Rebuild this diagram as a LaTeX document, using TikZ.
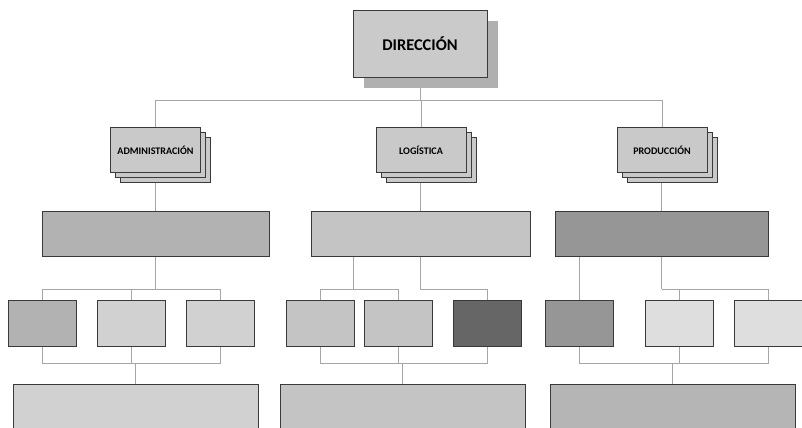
\documentclass[tikz,border=0pt]{standalone}
\usepackage{fontspec}
\setmainfont{Carlito}
\usetikzlibrary{positioning,shadows,backgrounds}

\definecolor{boxline}{HTML}{3A3A3A}
\definecolor{connline}{HTML}{A6A6A6}
\definecolor{shadowgray}{HTML}{B0B0B0}
\definecolor{dirfill}{HTML}{CACACA}
\definecolor{stackfill}{HTML}{C9C9C9}

\begin{document}
\begin{tikzpicture}[x=0.3mm, y=-0.3mm,
    box/.style={draw=boxline, line width=0.8pt, inner sep=0pt},
    small/.style={box, minimum width=20.4mm, minimum height=13.8mm},
    stack/.style={box, fill=stackfill, minimum width=27mm, minimum height=13.5mm,
        font=\fontsize{8.6}{10}\selectfont\bfseries,
        double copy shadow={shadow xshift=1.5mm, shadow yshift=-1.5mm,
            fill=stackfill, draw=boxline, line width=0.8pt}},
    conn/.style={draw=connline, line width=0.6pt}]
\useasboundingbox (0,0) rectangle (802,427);
\clip (0,0) rectangle (802,427);

% top
\node (dir) [box, fill=dirfill, minimum width=40.2mm, minimum height=20.1mm,
    font=\fontsize{14}{16}\selectfont\bfseries,
    drop shadow={shadow xshift=3.3mm, shadow yshift=-3.3mm, fill=shadowgray, opacity=1}]
    at (420,43.5) {DIRECCIÓN};

% departments
\node (adm) [stack] at (155.5,150) {ADMINISTRACIÓN};
\node (log) [stack] at (421,150) {LOGÍSTICA};
\node (prod) [stack] at (662,150) {PRODUCCIÓN};

% wide boxes
\node (admW) [box, fill=black!30, minimum width=68.1mm, minimum height=13.5mm] at (155.5,233.5) {};
\node (logW) [box, fill=black!23, minimum width=65.7mm, minimum height=13.5mm] at (420.5,233.5) {};
\node (prodW) [box, fill=black!41, minimum width=63.9mm, minimum height=13.5mm] at (661.5,233.5) {};

% small boxes
\node (a1) [small, fill=black!30] at (42,323) {};
\node (a2) [small, fill=black!18] at (131,323) {};
\node (a3) [small, fill=black!18] at (220,323) {};
\node (l1) [small, fill=black!23] at (320,323) {};
\node (l2) [small, fill=black!23] at (398,323) {};
\node (l3) [small, fill=black!60] at (487,323) {};
\node (p1) [small, fill=black!41] at (579,323) {};
\node (p2) [small, fill=black!13] at (679,323) {};
\node (p3) [small, fill=black!13] at (768,323) {};

% bottom boxes
\node (admB) [box, fill=black!18, minimum width=73.5mm, minimum height=18mm] at (135.5,414) {};
\node (logB) [box, fill=black!23, minimum width=73.5mm, minimum height=18mm] at (402.5,414) {};
\node (prodB) [box, fill=black!29, minimum width=73.5mm, minimum height=18mm] at (672.5,414) {};

\begin{scope}[on background layer]
\draw[conn] (dir.south) -- ++(0,23) coordinate (dirJ);
\draw[conn] (dirJ) -| (adm.north);
\draw[conn] (dirJ) -| (log.north);
\draw[conn] (dirJ) -| (prod.north);
\draw[conn] (adm.center) -- (admW.north);
\draw[conn] (logW.north |- log.center) -- (logW.north);
\draw[conn] (prodW.north |- prod.center) -- (prodW.north);

\draw[conn] (admW.south) -- ++(0,33) coordinate (admJ);
\draw[conn] (admJ) -| (a1.north);
\draw[conn] (admJ) -| (a2.north);
\draw[conn] (admJ) -| (a3.north);

\draw[conn] (logW.south) ++(-67,0) -- ++(0,33) coordinate (logJ);
\draw[conn] (logJ) -| (l1.north);
\draw[conn] (logJ) -| (l2.north);
\draw[conn] (logW.south) -- ++(0,33) -| (l3.north);

\draw[conn] (p1.north |- prodW.south) -- (p1.north);
\draw[conn] (prodW.south) -- ++(0,33) coordinate (prodJ);
\draw[conn] (prodJ) -| (p2.north);
\draw[conn] (prodJ) -| (p3.north);

\draw[conn] (admB.north) -- ++(0,-20) coordinate (admK);
\draw[conn] (admK) -| (a1.south);
\draw[conn] (admK) -| (a2.south);
\draw[conn] (admK) -| (a3.south);
\draw[conn] (logB.north) -- ++(0,-20) coordinate (logK);
\draw[conn] (logK) -| (l1.south);
\draw[conn] (logK) -| (l2.south);
\draw[conn] (logK) -| (l3.south);
\draw[conn] (prodB.north) -- ++(0,-20) coordinate (prodK);
\draw[conn] (prodK) -| (p1.south);
\draw[conn] (prodK) -| (p2.south);
\draw[conn] (prodK) -| (p3.south);
\end{scope}
\end{tikzpicture}
\end{document}
